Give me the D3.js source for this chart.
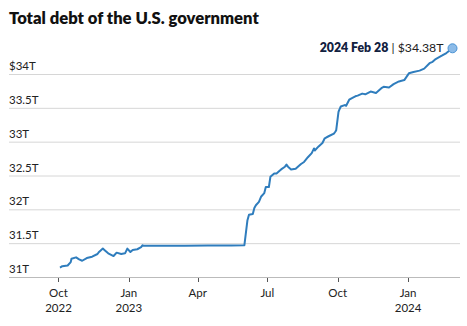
<!DOCTYPE html>
<html>
<head>
<meta charset="utf-8">
<script src="https://cdn.jsdelivr.net/npm/d3@7/dist/d3.min.js"></script>
<style>
    body { margin: 0; background: #fff; }
    svg { display: block; font-family: Lato, "Open Sans", sans-serif; }
</style>
</head>
<body>
<svg id="chart" width="467" height="326"></svg>
<script>
/*global d3*/
(function () {
    "use strict";

    // total public debt, trillions of dollars
    var dates = [
        "2022-10-03", "2022-10-06", "2022-10-13", "2022-10-17", "2022-10-18", "2022-10-24", "2022-10-28",
        "2022-11-01", "2022-11-07", "2022-11-14", "2022-11-21", "2022-11-23", "2022-11-28", "2022-11-30",
        "2022-12-05", "2022-12-12", "2022-12-16", "2022-12-22", "2022-12-27", "2022-12-30",
        "2023-01-03", "2023-01-06", "2023-01-12", "2023-01-17", "2023-01-19", "2023-01-20",
        "2023-02-15", "2023-03-15", "2023-04-14", "2023-05-15", "2023-06-01",
        "2023-06-05", "2023-06-07", "2023-06-12", "2023-06-14", "2023-06-16", "2023-06-20", "2023-06-23",
        "2023-06-27", "2023-06-29", "2023-07-03", "2023-07-05", "2023-07-10", "2023-07-13", "2023-07-17",
        "2023-07-19", "2023-07-24", "2023-07-26", "2023-07-28", "2023-08-01", "2023-08-07", "2023-08-14",
        "2023-08-18", "2023-08-23", "2023-08-28", "2023-08-31", "2023-09-01", "2023-09-06", "2023-09-11",
        "2023-09-14", "2023-09-19", "2023-09-26", "2023-09-28", "2023-09-29", "2023-10-02", "2023-10-03",
        "2023-10-05", "2023-10-10", "2023-10-12", "2023-10-16", "2023-10-19", "2023-10-24", "2023-10-27",
        "2023-11-02", "2023-11-06", "2023-11-13", "2023-11-20", "2023-11-27", "2023-11-30", "2023-12-07",
        "2023-12-13", "2023-12-20", "2023-12-27", "2024-01-02", "2024-01-08", "2024-01-16", "2024-01-22",
        "2024-01-29", "2024-02-02", "2024-02-06", "2024-02-14", "2024-02-20", "2024-02-28"
    ];
    var debt = [
        31.14, 31.16, 31.17, 31.22, 31.27, 31.29, 31.26,
        31.24, 31.28, 31.30, 31.34, 31.37, 31.42, 31.40,
        31.35, 31.31, 31.36, 31.34, 31.35, 31.42,
        31.37, 31.40, 31.41, 31.44, 31.47, 31.46,
        31.46, 31.46, 31.465, 31.465, 31.47,
        31.84, 31.92, 31.93, 32.02, 32.06, 32.11, 32.19,
        32.24, 32.33, 32.33, 32.48, 32.53, 32.53, 32.57,
        32.59, 32.63, 32.66, 32.63, 32.59, 32.60, 32.67,
        32.70, 32.77, 32.83, 32.90, 32.87, 32.93, 32.98,
        33.05, 33.08, 33.12, 33.15, 33.17, 33.44, 33.47,
        33.52, 33.54, 33.53, 33.62, 33.64, 33.67, 33.68,
        33.71, 33.70, 33.74, 33.72, 33.79, 33.81, 33.80,
        33.85, 33.89, 33.91, 34.01, 34.03, 34.05, 34.08,
        34.16, 34.18, 34.22, 34.27, 34.31, 34.38
    ];
    var yTicks = [31, 31.5, 32, 32.5, 33, 33.5, 34];
    var yTickLabels = ["31T", "31.5T", "32T", "32.5T", "33T", "33.5T", "$34T"];
    var xTicks = ["2022-10-01", "2023-01-01", "2023-04-01", "2023-07-01", "2023-10-01", "2024-01-01"];
    var xTickLabels = [["Oct", "2022"], ["Jan", "2023"], ["Apr", ""], ["Jul", ""], ["Oct", ""], ["Jan", "2024"]];

    var parse = d3.timeParse("%Y-%m-%d"),
        fmtDay = d3.timeFormat("%Y %b %-d");

    var data = dates.map(function (d, i) {
        return { date: parse(d), value: debt[i] };
    });
    var last = data[data.length - 1];

    var svg = d3.select("#chart"),
        left = 9,
        right = 460,
        base = 277;

    var x = d3.scaleTime()
        .domain(d3.extent(data, function (d) { return d.date; }))
        .range([60, 452.5]);
    var y = d3.scaleLinear()
        .domain([31, 34])
        .range([base, 74]);

    svg.append("text")
        .attr("x", left)
        .attr("y", 24)
        .attr("font-size", 16.6)
        .attr("font-weight", 800)
        .attr("fill", "#111")
        .text("Total debt of the U.S. government");

    // horizontal grid, labels sit above each line
    var grid = svg.append("g");
    grid.selectAll("line")
        .data(yTicks)
        .enter().append("line")
        .attr("x1", left)
        .attr("x2", right)
        .attr("y1", function (d) { return y(d) + 0.5; })
        .attr("y2", function (d) { return y(d) + 0.5; })
        .attr("stroke", function (d) { return d === 31 ? "#bbb" : "#d6d6d6"; })
        .attr("stroke-width", 1);
    grid.selectAll("text")
        .data(yTicks)
        .enter().append("text")
        .attr("x", left)
        .attr("y", function (d) { return y(d) - 4; })
        .attr("font-size", 11.5)
        .attr("fill", "#222")
        .text(function (d, i) { return yTickLabels[i]; });

    // time axis: tick marks below the baseline, two-line labels
    var xAxis = svg.append("g");
    xAxis.selectAll("line")
        .data(xTicks)
        .enter().append("line")
        .attr("x1", function (d) { return Math.round(x(parse(d))) + 0.5; })
        .attr("x2", function (d) { return Math.round(x(parse(d))) + 0.5; })
        .attr("y1", base + 1)
        .attr("y2", base + 5)
        .attr("stroke", "#555");
    var lbl = xAxis.selectAll("text")
        .data(xTicks)
        .enter().append("text")
        .attr("text-anchor", "middle")
        .attr("font-size", 11.5)
        .attr("fill", "#222");
    lbl.append("tspan")
        .attr("x", function (d) { return x(parse(d)); })
        .attr("y", 297)
        .text(function (d, i) { return xTickLabels[i][0]; });
    lbl.append("tspan")
        .attr("x", function (d) { return x(parse(d)); })
        .attr("y", 312)
        .text(function (d, i) { return xTickLabels[i][1]; });

    var line = d3.line()
        .x(function (d) { return x(d.date); })
        .y(function (d) { return y(d.value); });

    svg.append("path")
        .datum(data)
        .attr("d", line)
        .attr("fill", "none")
        .attr("stroke", "#2f7dbd")
        .attr("stroke-width", 2)
        .attr("stroke-linejoin", "round");

    // latest value marker and label
    svg.append("circle")
        .attr("cx", x(last.date))
        .attr("cy", y(last.value))
        .attr("r", 4.5)
        .attr("fill", "#8cbbe8")
        .attr("stroke", "#4b93d4")
        .attr("stroke-width", 1);

    var note = svg.append("text")
        .attr("x", x(last.date) - 9)
        .attr("y", y(last.value) + 3.5)
        .attr("text-anchor", "end")
        .attr("font-size", 12.3);
    note.append("tspan")
        .attr("font-weight", 800)
        .attr("fill", "#12213f")
        .text(fmtDay(last.date));
    note.append("tspan")
        .attr("fill", "#222")
        .text(" | $" + last.value.toFixed(2) + "T");
}());
</script>
</body>
</html>
